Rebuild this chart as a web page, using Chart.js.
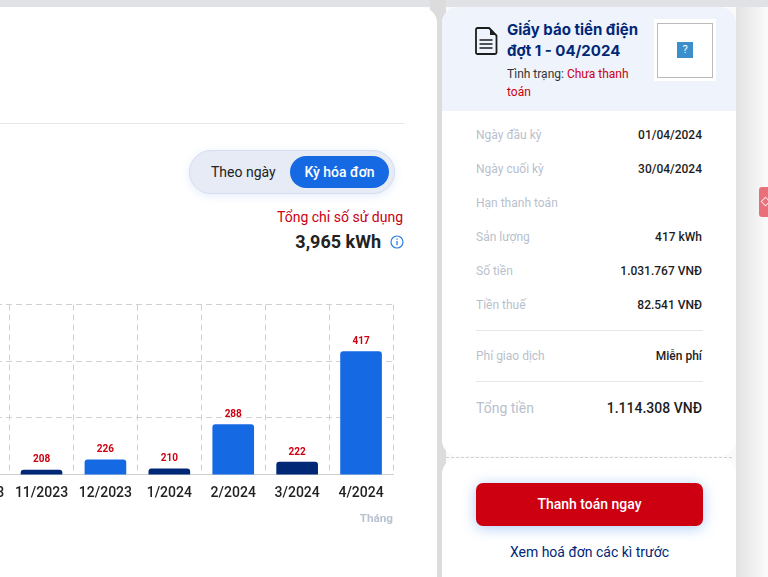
<!DOCTYPE html>
<html lang="vi">
<head>
<meta charset="utf-8">
<title>Giấy báo tiền điện</title>
<script src="https://cdn.jsdelivr.net/npm/chart.js@4/dist/chart.umd.min.js"></script>
<style>
    html, body { margin: 0; padding: 0; width: 768px; height: 577px; overflow: hidden; }
    body { position: relative; background: #fafafa; font-family: Roboto, sans-serif; color: #1d1d1f; }
    .abs { position: absolute; white-space: nowrap; }
    #topBand { left: 0; top: 0; width: 768px; height: 7px; background: #e1e2e5; }
    #shadowRight { left: 736px; top: 7px; width: 28px; height: 570px; background: linear-gradient(90deg, #e2e2e2, #f8f8f8); }
    #gap { left: 430px; top: 0; width: 16px; height: 577px; background: #dcdcdc; }
    #leftCard { left: -20px; top: 7px; width: 457px; height: 600px; background: #fff; border-radius: 0 16px 0 0; overflow: hidden; }
    #rule { left: 0; top: 123px; width: 404px; height: 1px; background: #e4e6ec; }
    #toggle { left: 189px; top: 150px; width: 204px; height: 42px; border: 1px solid #d6deef; border-radius: 22px; background: #e6ebf6; box-shadow: 0 2px 8px rgba(21,106,228,.12); }
    #toggleOn { left: 290px; top: 156px; width: 99px; height: 32px; border-radius: 16px; background: #156ae4; color: #fff; font-size: 14px; font-weight: 500; line-height: 32px; text-align: center; }
    #toggleOff { left: 211px; top: 156px; font-size: 14px; line-height: 32px; color: #222; }
    #totalLabel { right: 365px; top: 209px; font-size: 14px; color: #cc0011; }
    #totalValue { right: 387px; top: 231px; font-size: 18px; font-weight: 700; color: #222; }
    #infoIcon { left: 390px; top: 235px; }
    #chartBox { left: -60px; top: 290px; width: 470px; height: 240px; }

    #billCard { left: 442px; top: 7px; width: 294px; height: 449px; background: #fff; border-radius: 16px; overflow: hidden; }
    #billHead { left: 0; top: 0; width: 294px; height: 104px; background: #eff3fc; }
    #billIcon { left: 474px; top: 27px; }
    #billTitle { left: 507px; top: 19px; font-family: Inter, sans-serif; font-weight: 700; font-size: 15px; line-height: 21px; color: #012777; }
    #billStatus { left: 507px; top: 65px; font-size: 12px; line-height: 18px; color: #333; }
    #billStatus span { color: #cc0011; }
    #imgFrame { left: 654px; top: 19px; width: 62px; height: 62px; background: #fff; }
    #imgBox { left: 3px; top: 4px; width: 54px; height: 53px; border: 1px solid #bbb; }
    #imgQ { left: 23px; top: 23px; width: 16px; height: 16px; background: #3d8fcb; color: #fff; font-size: 11px; line-height: 16px; text-align: center; }
    .rowLabel { left: 476px; font-size: 12px; color: #b9bfcc; }
    .rowValue { right: 66px; font-size: 12px; font-weight: 500; color: #1d1d1f; }
    .sep { left: 476px; width: 227px; height: 1px; background: #e4e6ec; }
    #dash { left: 446px; top: 457px; width: 286px; border-top: 1px dashed #d0d0d0; }
    #payCard { left: 442px; top: 458px; width: 294px; height: 140px; background: #fff; border-radius: 16px; }
    #payBtn { left: 476px; top: 483px; width: 227px; height: 43px; border-radius: 7px; background: #cc0011; color: #fff; font-size: 14px; font-weight: 500; line-height: 43px; text-align: center; box-shadow: 0 2px 14px rgba(21,106,228,.35); }
    #history { left: 476px; top: 544px; width: 227px; text-align: center; font-size: 14px; color: #012777; }
    #tab { left: 759px; top: 187px; width: 9px; height: 30px; background: #e8707a; border-radius: 3px 0 0 3px; }
    #tab i { position: absolute; left: 3px; top: 11px; width: 5px; height: 5px; border: 1px solid #fbdde0; transform: rotate(45deg); }
</style>
</head>
<body>
<div class="abs" id="topBand"></div>
<div class="abs" id="shadowRight"></div>
<div class="abs" id="gap"></div>
<div class="abs" id="leftCard"></div>
<div class="abs" id="rule"></div>
<div class="abs" id="toggle"></div>
<div class="abs" id="toggleOff">Theo ngày</div>
<div class="abs" id="toggleOn">Kỳ hóa đơn</div>
<div class="abs" id="totalLabel">Tổng chỉ số sử dụng</div>
<div class="abs" id="totalValue">3,965 kWh</div>
<svg class="abs" id="infoIcon" width="14" height="14" viewBox="0 0 14 14">
    <circle cx="7" cy="7" r="6" fill="none" stroke="#2f7fe6" stroke-width="1.2"/>
    <path d="M7 6v4.2M7 3.6v1.1" stroke="#2f7fe6" stroke-width="1.3"/>
</svg>
<div class="abs" id="chartBox"><canvas id="barChart"></canvas></div>

<div class="abs" id="billCard"><div class="abs" id="billHead"></div></div>
<svg class="abs" id="billIcon" width="24" height="28" viewBox="0 0 24 28">
    <path d="M2 2.5a1.5 1.5 0 0 1 1.5-1.5H15l7.5 7.5v17a1.5 1.5 0 0 1-1.5 1.5H3.5A1.5 1.5 0 0 1 2 25.5z" fill="none" stroke="#1d1d1f" stroke-width="1.8"/>
    <path d="M16 1v7h6.5z" fill="#1d1d1f"/>
    <path d="M5.5 13h13M5.5 17h13M5.5 21h13" stroke="#1d1d1f" stroke-width="1.6"/>
</svg>
<div class="abs" id="billTitle">Giấy báo tiền điện<br>đợt 1 - 04/2024</div>
<div class="abs" id="billStatus">Tình trạng: <span>Chưa thanh<br>toán</span></div>
<div class="abs" id="imgFrame">
    <div class="abs" id="imgBox"></div>
    <div class="abs" id="imgQ">?</div>
</div>

<div class="abs rowLabel" style="top:128px">Ngày đầu kỳ</div>
<div class="abs rowValue" style="top:128px">01/04/2024</div>
<div class="abs rowLabel" style="top:162px">Ngày cuối kỳ</div>
<div class="abs rowValue" style="top:162px">30/04/2024</div>
<div class="abs rowLabel" style="top:196px">Hạn thanh toán</div>
<div class="abs rowLabel" style="top:230px">Sản lượng</div>
<div class="abs rowValue" style="top:230px">417 kWh</div>
<div class="abs rowLabel" style="top:264px">Số tiền</div>
<div class="abs rowValue" style="top:264px">1.031.767 VNĐ</div>
<div class="abs rowLabel" style="top:298px">Tiền thuế</div>
<div class="abs rowValue" style="top:298px">82.541 VNĐ</div>
<div class="abs sep" style="top:330px"></div>
<div class="abs rowLabel" style="top:349px">Phí giao dịch</div>
<div class="abs rowValue" style="top:349px">Miễn phí</div>
<div class="abs sep" style="top:381px"></div>
<div class="abs rowLabel" style="top:400px;font-size:14px">Tổng tiền</div>
<div class="abs rowValue" style="top:400px;font-size:14px">1.114.308 VNĐ</div>

<div class="abs" id="payCard"></div>
<div class="abs" id="dash"></div>
<div class="abs" id="payBtn">Thanh toán ngay</div>
<div class="abs" id="history">Xem hoá đơn các kì trước</div>
<div class="abs" id="tab"><i></i></div>

<script>
    const months = ["10/2023", "11/2023", "12/2023", "1/2024", "2/2024", "3/2024", "4/2024"];
    // the 10/2023 bar sits outside the crop, so its value is a guess
    const usage = [230, 208, 226, 210, 288, 222, 417];
    const barColors = ["#156ae4", "#012777", "#156ae4", "#012777", "#156ae4", "#012777", "#156ae4"];
    const yTicks = [200, 300, 400, 500];

    const valueLabels = {
        id: "valueLabels",
        afterDatasetsDraw(chart) {
            const ctx = chart.ctx;
            const bars = chart.getDatasetMeta(0).data;
            ctx.save();
            ctx.fillStyle = "#cc0011";
            ctx.font = "700 10px Roboto";
            ctx.textAlign = "center";
            ctx.textBaseline = "bottom";
            bars.forEach((bar, i) => {
                ctx.fillText(usage[i], bar.x, bar.y - 5);
            });
            ctx.restore();
        },
    };

    const data = {
        labels: months,
        datasets: [
            {
                data: usage,
                backgroundColor: barColors,
                borderRadius: { topLeft: 3, topRight: 3 },
                borderSkipped: "bottom",
                barThickness: 41,
            },
        ],
    };

    const gridStyle = {
        color: "#d0d0d0",
        lineWidth: 1,
        drawTicks: false,
    };

    const config = {
        type: "bar",
        data: data,
        plugins: [valueLabels],
        options: {
            responsive: false,
            animation: false,
            layout: { padding: { top: 14.5, right: 17, left: 0, bottom: 0 } },
            plugins: {
                legend: { display: false },
                tooltip: { enabled: false },
            },
            scales: {
                x: {
                    border: { display: true, dash: [6, 4], color: "#d0d0d0" },
                    grid: gridStyle,
                    ticks: {
                        color: "#222",
                        font: { family: "Roboto", size: 14, weight: "500" },
                        padding: 11,
                        maxRotation: 0,
                        autoSkip: false,
                    },
                    title: {
                        display: true,
                        text: "Tháng",
                        align: "end",
                        color: "#b9c2d0",
                        font: { family: "Roboto", size: 11.7, weight: "700" },
                        padding: { top: 1, bottom: 4 },
                    },
                    afterFit(scale) {
                        scale.height = 55.5;
                    },
                },
                y: {
                    min: yTicks[0],
                    max: yTicks[yTicks.length - 1],
                    border: { display: false, dash: [6, 4] },
                    grid: gridStyle,
                    ticks: { display: false, stepSize: 100 },
                    afterFit(scale) {
                        scale.width = 0;
                    },
                },
            },
        },
    };

    const canvas = document.getElementById("barChart");
    canvas.width = 470;
    canvas.height = 240;
    new Chart(canvas.getContext("2d"), config);
</script>
</body>
</html>
